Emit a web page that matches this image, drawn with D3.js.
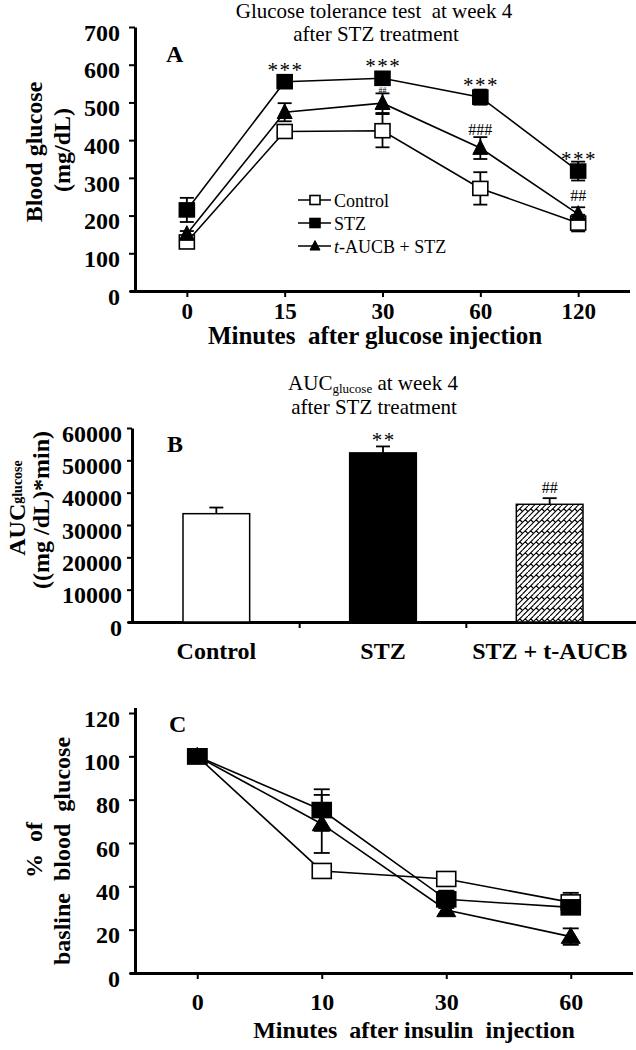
<!DOCTYPE html>
<html><head><meta charset="utf-8">
<script src="https://cdn.jsdelivr.net/npm/d3@7"></script>
<style>
html,body{margin:0;padding:0;background:#fff;}
svg{display:block;}
text{font-family:"Liberation Serif","Times New Roman",serif;fill:#000;}
.b{font-weight:bold;}
</style></head><body>
<svg id="chart" width="636" height="1050"></svg>
<script>
// ---------- Panel A data ----------
const timesA = ['0','15','30','60','120'];
const ctrlA = [130, 423, 425, 272, 180];
const ctrlAerr = [10, 10, 44, 43, 22];
const stzA = [215, 555, 564, 514, 318];
const stzAerr = [32, 6, 6, 20, 25];
const aucbA = [151, 474, 498, 379, 204];
const aucbAerr = [8, 24, 26, 29, 18];
const yTicksA = [0, 100, 200, 300, 400, 500, 600, 700];
const sigStzA = ['', '***', '***', '***', '***'];
const sigAucbA = ['', '', '', '###', '##'];
const legendA = ['Control', 'STZ', 't-AUCB + STZ'];

// ---------- Panel B data ----------
const groupsB = ['Control', 'STZ', 'STZ + t-AUCB'];
const aucB = [33500, 52300, 36400];
const aucErrB = [1900, 2000, 1900];
const sigB = ['', '**', '##'];
const yTicksB = [0, 10000, 20000, 30000, 40000, 50000, 60000];

// ---------- Panel C data ----------
const timesC = ['0','10','30','60'];
const ctrlC = [100, 47.1, 43.4, 32.6];
const ctrlCerr = [0, 1.5, 2, 4.4];
const stzC = [100, 75.2, 34.0, 30.3];
const stzCerr = [0, 9.6, 4, 1.5];
const aucbC = [100, 68.8, 29.1, 16.8];
const aucbCerr = [0, 13.4, 2, 3.8];
const yTicksC = [0, 20, 40, 60, 80, 100, 120];

const svg = d3.select('#chart');
svg.append('rect').attr('width',636).attr('height',1050).attr('fill','#fff');

const defs = svg.append('defs');
const T = 11, h = T/2;
const pat = defs.append('pattern').attr('id','hatch').attr('patternUnits','userSpaceOnUse')
  .attr('width',T).attr('height',T);
pat.append('rect').attr('width',T).attr('height',T).attr('fill','#fff');
pat.append('path')
  .attr('d',`M0,${h} L${h},0 M0,${T} L${T},0 M${h},${T} L${T},${h} ` +
            `M${h/2},${h/2} L${h},${h} M${T-h/2},${h/2} L${T},${h} M${-0.5},${h+0.5} L0,${h}`)
  .attr('stroke','#000').attr('stroke-width',1.1).attr('fill','none');

function styleAxis(g, w){
  g.select('.domain').attr('stroke','#000').attr('stroke-width',w);
  g.selectAll('.tick line').attr('stroke','#000').attr('stroke-width',2);
  g.selectAll('.tick text').attr('class','b').attr('font-size',24).attr('fill','#000');
}

function lineChart(cfg){
  const {g, x, y, series} = cfg;
  series.forEach(s => {
    s.vals.forEach((v,i) => {
      const e = s.err[i];
      if (!e) return;
      const cx = x(cfg.cats[i]);
      g.append('line').attr('x1',cx).attr('x2',cx).attr('y1',y(v-e)).attr('y2',y(v+e))
        .attr('stroke','#000').attr('stroke-width',1.8);
      [v-e, v+e].forEach(ev => g.append('line').attr('x1',cx-cfg.cap).attr('x2',cx+cfg.cap)
        .attr('y1',y(ev)).attr('y2',y(ev)).attr('stroke','#000').attr('stroke-width',1.8));
    });
  });
  series.forEach(s => {
    const line = d3.line().x((d,i)=>x(cfg.cats[i])).y(d=>y(d));
    g.append('path').datum(s.vals).attr('d',line).attr('fill','none')
      .attr('stroke','#000').attr('stroke-width',1.6);
  });
  series.forEach(s => {
    s.vals.forEach((v,i) => {
      drawMarker(g, s.type, x(cfg.cats[i]), y(v), cfg.mw, cfg.mh);
    });
  });
}
function drawMarker(g, type, cx, cy, w, h){
  if (type === 'tri') {
    g.append('path').attr('d',`M${cx},${cy-h*0.6} L${cx+w/2},${cy+h*0.45} L${cx-w/2},${cy+h*0.45}Z`)
      .attr('fill','#000').attr('stroke','#000').attr('stroke-width',1);
  } else {
    g.append('rect').attr('x',cx-w/2).attr('y',cy-h/2).attr('width',w).attr('height',h)
      .attr('fill', type==='open' ? '#fff' : '#000').attr('stroke','#000').attr('stroke-width',1.6);
  }
}
function stars(g, cx, cyCenter, t){
  g.append('text').attr('x',cx + 0.75).attr('y',cyCenter + 12).attr('text-anchor','middle')
    .attr('font-size',21).attr('letter-spacing',1.5).attr('font-family','DejaVu Sans').text(t);
}
function hashes(g, cx, cyCenter, t, size){
  g.append('text').attr('x',cx).attr('y',cyCenter + size*0.34).attr('text-anchor','middle')
    .attr('font-size',size).attr('fill','#222').text(t);
}

// ================= Panel A =================
{
  const g = svg.append('g');
  const x = d3.scalePoint().domain(timesA).range([135, 630]).padding(0.53);
  const y = d3.scaleLinear().domain([0,700]).range([291, 27]);

  const ya = g.append('g').attr('transform','translate(135,0)')
    .call(d3.axisLeft(y).tickValues(yTicksA).tickSize(6).tickSizeOuter(0).tickPadding(9));
  styleAxis(ya, 3);
  ya.selectAll('.tick text').attr('dy','0.55em');
  const xa = g.append('g').attr('transform','translate(0,291)')
    .call(d3.axisBottom(x).tickSize(6).tickSizeOuter(0).tickPadding(6));
  styleAxis(xa, 3);
  xa.selectAll('.tick text').attr('font-size',23);
  xa.select('.domain').attr('d','M130,0.5H630');

  g.append('text').attr('x',374).attr('y',18).attr('text-anchor','middle').attr('font-size',21)
    .style('white-space','pre').text('Glucose tolerance test  at week 4');
  g.append('text').attr('x',376).attr('y',41).attr('text-anchor','middle').attr('font-size',21)
    .text('after STZ treatment');
  g.append('text').attr('class','b').attr('x',166).attr('y',62).attr('font-size',24).text('A');

  g.append('text').attr('class','b').attr('transform','translate(42,152) rotate(-90)')
    .attr('text-anchor','middle').attr('font-size',24).text('Blood glucose');
  g.append('text').attr('class','b').attr('transform','translate(70,150) rotate(-90)')
    .attr('text-anchor','middle').attr('font-size',24).text('(mg/dL)');
  g.append('text').attr('class','b').attr('x',375).attr('y',344).attr('text-anchor','middle')
    .attr('font-size',25).style('white-space','pre').text('Minutes  after glucose injection');

  const series = [
    {vals: ctrlA, err: ctrlAerr, type:'open'},
    {vals: aucbA, err: aucbAerr, type:'tri'},
    {vals: stzA, err: stzAerr, type:'fill'}
  ];
  lineChart({g, x, y, series, cats: timesA, cap: 7, mw: 15, mh: 14});

  sigStzA.forEach((t,i) => { if(!t) return; stars(g, x(timesA[i]), y(stzA[i]) - 17, t); });
  sigAucbA.forEach((t,i) => { if(!t) return; hashes(g, x(timesA[i]), y(aucbA[i]) - 19, t, 16); });
  hashes(g, x('30'), 90, '##', 8);

  const types = ['open','fill','tri'];
  legendA.forEach((name,i) => {
    const ly = 200 + i*23;
    g.append('line').attr('x1',298).attr('x2',331).attr('y1',ly).attr('y2',ly)
      .attr('stroke','#000').attr('stroke-width',1.6);
    drawMarker(g, types[i], 315, ly, 10, 9);
    const t = g.append('text').attr('x',334).attr('y',ly+7).attr('font-size',18);
    if (name.startsWith('t-')) {
      t.append('tspan').attr('font-style','italic').text('t');
      t.append('tspan').text(name.slice(1));
    } else t.text(name);
  });
}

// ================= Panel B =================
{
  const g = svg.append('g');
  const x = d3.scaleBand().domain(groupsB).range([133, 633]).paddingInner(0.6).paddingOuter(0.3);
  const y = d3.scaleLinear().domain([0,60000]).range([622, 428]);

  const ya = g.append('g').attr('transform','translate(132,0)')
    .call(d3.axisLeft(y).tickValues(yTicksB).tickFormat(d3.format('d')).tickSize(5).tickSizeOuter(0).tickPadding(5));
  styleAxis(ya, 3);
  ya.selectAll('.tick text').attr('dy','0.55em');
  const xa = g.append('g').attr('transform','translate(0,622)')
    .call(d3.axisBottom(x).tickSize(0).tickSizeOuter(0).tickPadding(20));
  styleAxis(xa, 3);
  xa.select('.domain').attr('d','M128,0.5H636');
  groupsB.forEach((d,i) => {
    const bx = x(d) + x.bandwidth() + x.step()*x.paddingInner()/2;
    if (i < groupsB.length - 1)
      g.append('line').attr('x1',bx).attr('x2',bx).attr('y1',622).attr('y2',628)
        .attr('stroke','#000').attr('stroke-width',2);
  });

  const fills = ['#fff','#000','url(#hatch)'];
  groupsB.forEach((d,i) => {
    const cx = x(d) + x.bandwidth()/2;
    g.append('line').attr('x1',cx).attr('x2',cx).attr('y1',y(aucB[i])).attr('y2',y(aucB[i]+aucErrB[i]))
      .attr('stroke','#000').attr('stroke-width',1.8);
    g.append('line').attr('x1',cx-7).attr('x2',cx+7).attr('y1',y(aucB[i]+aucErrB[i])).attr('y2',y(aucB[i]+aucErrB[i]))
      .attr('stroke','#000').attr('stroke-width',1.8);
    g.append('rect').attr('x',x(d)).attr('y',y(aucB[i])).attr('width',x.bandwidth())
      .attr('height',y(0)-y(aucB[i])).attr('fill',fills[i]).attr('stroke','#000').attr('stroke-width',1.5);
    if (sigB[i] === '**') stars(g, cx, y(aucB[i]) - 18, sigB[i]);
    else if (sigB[i]) hashes(g, cx, y(aucB[i]) - 17, sigB[i], 16);
  });

  const t1 = g.append('text').attr('x',373).attr('y',390).attr('text-anchor','middle').attr('font-size',21);
  t1.append('tspan').text('AUC');
  t1.append('tspan').attr('font-size',13).attr('dy',3).text('glucose');
  t1.append('tspan').attr('dy',-3).text(' at week 4');
  g.append('text').attr('x',374).attr('y',414).attr('text-anchor','middle').attr('font-size',21)
    .text('after STZ treatment');
  g.append('text').attr('class','b').attr('x',167).attr('y',452).attr('font-size',24).text('B');

  const yl = g.append('text').attr('class','b').attr('transform','translate(25,508) rotate(-90)')
    .attr('text-anchor','middle').attr('font-size',24);
  yl.append('tspan').text('AUC');
  yl.append('tspan').attr('font-size',14).attr('dy',-3).text('glucose');
  g.append('text').attr('class','b').attr('transform','translate(49,510) rotate(-90)')
    .attr('text-anchor','middle').attr('font-size',24).text('((mg /dL)*min)');
}

// ================= Panel C =================
{
  const g = svg.append('g');
  const x = d3.scalePoint().domain(timesC).range([135, 633]).padding(0.5);
  const y = d3.scaleLinear().domain([0,120]).range([973, 713]);

  const ya = g.append('g').attr('transform','translate(135,0)')
    .call(d3.axisLeft(y).tickValues(yTicksC).tickSize(6).tickSizeOuter(0).tickPadding(9));
  styleAxis(ya, 3);
  ya.selectAll('.tick text').attr('dy','0.55em');
  ya.select('.domain').attr('d','M0.5,973V708');
  const xa = g.append('g').attr('transform','translate(0,973)')
    .call(d3.axisBottom(x).tickSize(6).tickSizeOuter(0).tickPadding(14));
  styleAxis(xa, 3);
  xa.select('.domain').attr('d','M130,0.5H633');

  g.append('text').attr('class','b').attr('x',169).attr('y',732).attr('font-size',24).text('C');
  g.append('text').attr('class','b').attr('transform','translate(42,850) rotate(-90)')
    .attr('text-anchor','middle').attr('font-size',24).style('white-space','pre').text('%  of');
  g.append('text').attr('class','b').attr('transform','translate(70,851) rotate(-90)')
    .attr('text-anchor','middle').attr('font-size',24).style('white-space','pre').text('basline  blood  glucose');
  g.append('text').attr('class','b').attr('x',414).attr('y',1038).attr('text-anchor','middle')
    .attr('font-size',24).style('white-space','pre').text('Minutes  after insulin  injection');

  const series = [
    {vals: ctrlC, err: ctrlCerr, type:'open'},
    {vals: aucbC, err: aucbCerr, type:'tri'},
    {vals: stzC, err: stzCerr, type:'fill'}
  ];
  lineChart({g, x, y, series, cats: timesC, cap: 8, mw: 19, mh: 15});
}
</script>
</body></html>
